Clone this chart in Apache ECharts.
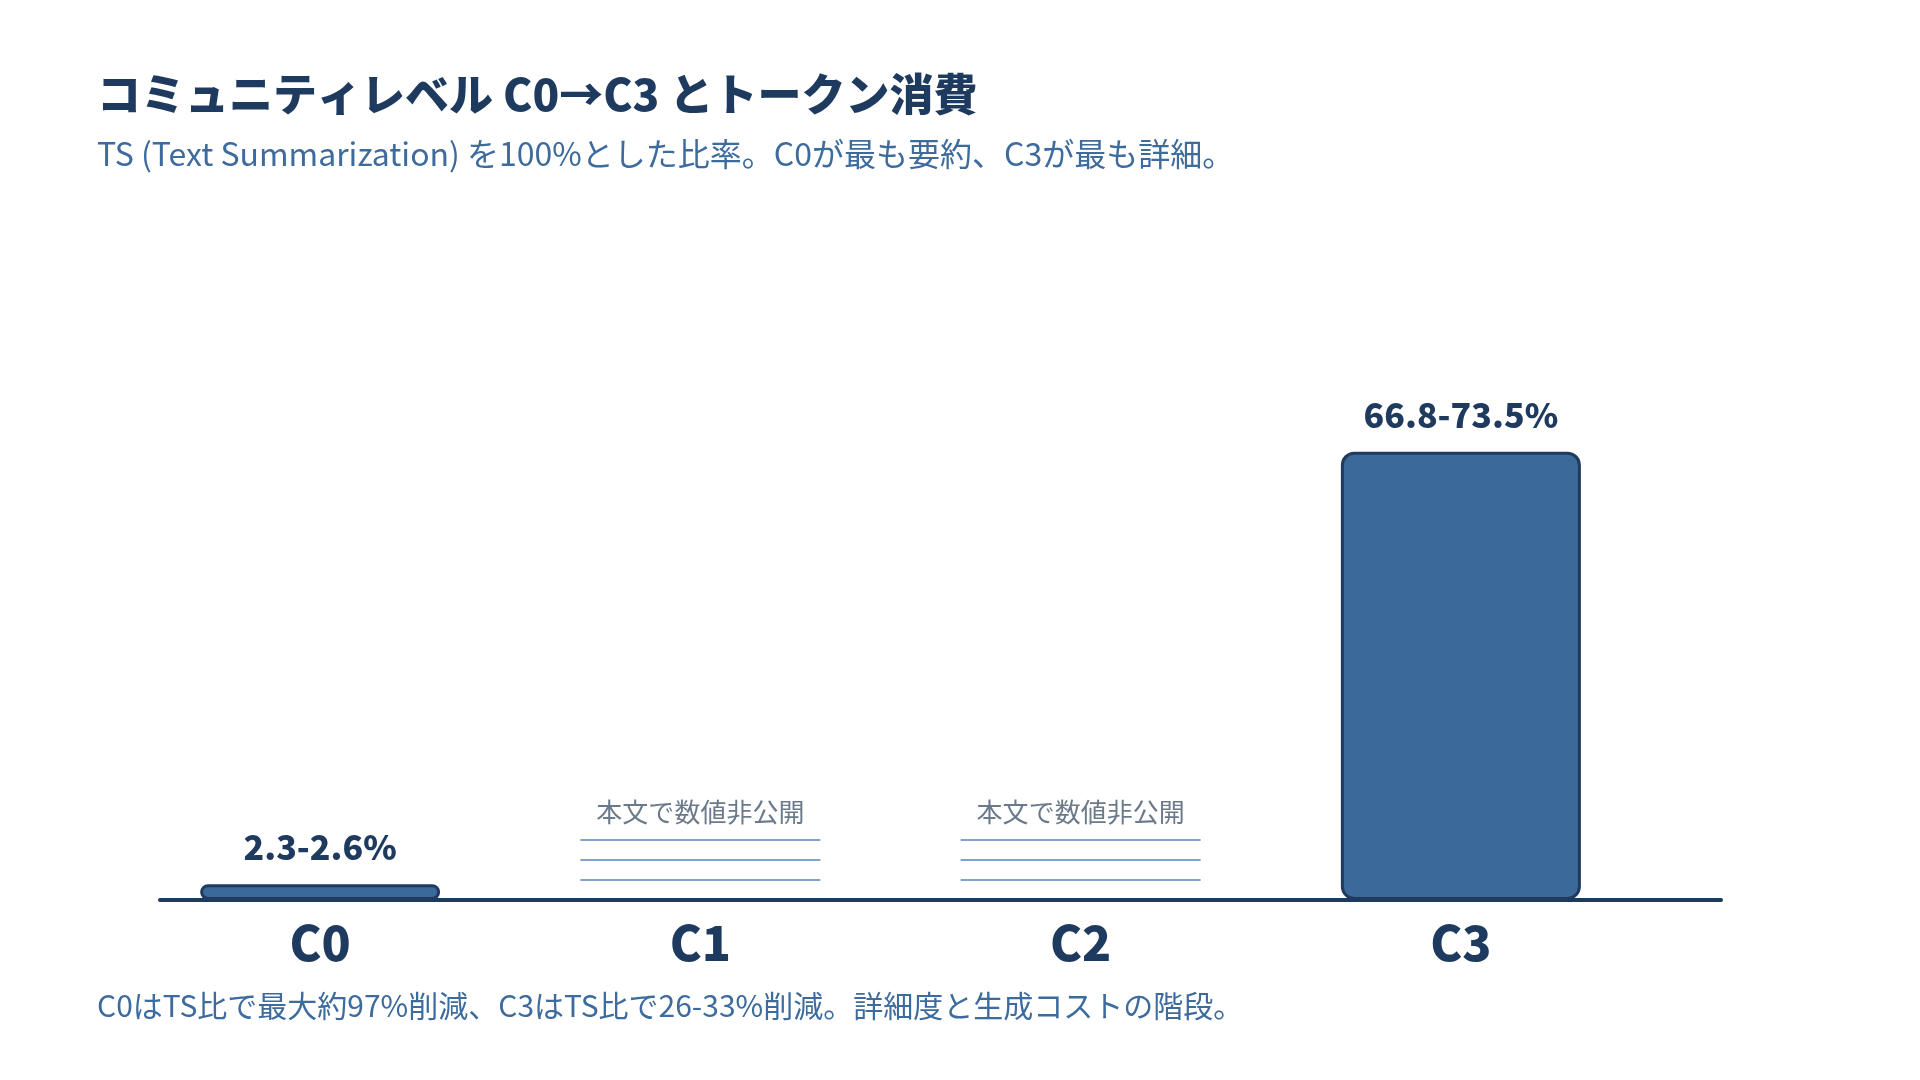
<!DOCTYPE html>
<html>
<head>
<meta charset="utf-8">
<script src="https://cdn.jsdelivr.net/npm/echarts@6/dist/echarts.min.js"></script>
<style>
html,body{margin:0;padding:0;background:#ffffff;}
#chart{width:1920px;height:1080px;}
</style>
</head>
<body>
<div id="chart"></div>
<script>
const titleText = 'コミュニティレベル C0→C3 とトークン消費';
const subtitleText = 'TS (Text Summarization) を100%とした比率。C0が最も要約、C3が最も詳細。';
const footerText = 'C0はTS比で最大約97%削減、C3はTS比で26-33%削減。詳細度と生成コストの階段。';
const categories = ['C0', 'C1', 'C2', 'C3'];
const lowValues = [2.3, null, null, 66.8];
const highValues = [2.6, null, null, 73.5];
const undisclosedNote = '本文で数値非公開';

const FONT = '"Noto Sans CJK JP", "Noto Sans", sans-serif';
const NAVY = '#1f3a5f';
const BAR = '#3c6a98';
const SUB = '#3d6b9e';

const undisclosedData = categories
  .map((c, i) => (highValues[i] == null ? [i] : null))
  .filter(d => d !== null);

const chart = echarts.init(document.getElementById('chart'));
chart.setOption({
  backgroundColor: '#ffffff',
  animation: false,
  title: [
    { text: titleText, left: 92, top: 67,
      textStyle: { fontFamily: FONT, fontSize: 44, fontWeight: 900, color: NAVY } },
    { text: subtitleText, left: 92, top: 133,
      textStyle: { fontFamily: FONT, fontSize: 32, fontWeight: 'normal', color: SUB } },
    { text: footerText, left: 92, top: 986,
      textStyle: { fontFamily: FONT, fontSize: 30, fontWeight: 'normal', color: SUB } }
  ],
  grid: [
    { left: 130, width: 1521, top: 290, bottom: 180 },
    { left: 160, right: 199, top: 290, bottom: 180 }
  ],
  xAxis: [
    { type: 'category', gridIndex: 0, data: categories,
      axisLine: { show: false }, axisTick: { show: false },
      axisLabel: { margin: 19, fontFamily: FONT, fontSize: 48, fontWeight: 900, color: NAVY } },
    { type: 'value', gridIndex: 1, min: 0, max: 1,
      axisLine: { show: true, lineStyle: { color: NAVY, width: 4 } },
      axisTick: { show: false }, axisLabel: { show: false }, splitLine: { show: false } }
  ],
  yAxis: [
    { type: 'value', gridIndex: 0, min: 0, max: 100, show: false },
    { type: 'value', gridIndex: 1, min: 0, max: 1, show: false }
  ],
  series: [
    {
      type: 'bar', xAxisIndex: 0, yAxisIndex: 0, z: 3,
      data: highValues,
      barWidth: 240,
      itemStyle: { color: BAR, borderColor: NAVY, borderWidth: 3, borderRadius: 12 },
      label: {
        show: true, position: 'top', distance: 20,
        fontFamily: FONT, fontSize: 34, fontWeight: 900, color: NAVY,
        formatter: p => lowValues[p.dataIndex] + '-' + highValues[p.dataIndex] + '%'
      }
    },
    {
      type: 'custom', xAxisIndex: 0, yAxisIndex: 0, z: 3,
      data: undisclosedData,
      renderItem: function (params, api) {
        const base = api.coord([api.value(0), 0]);
        const w = 240;
        const x0 = base[0] - w / 2, x1 = base[0] + w / 2;
        const lineStyle = { stroke: '#7ea3cc', lineWidth: 2 };
        const children = [20, 40, 60].map(off => ({
          type: 'line',
          shape: { x1: x0, y1: base[1] - off, x2: x1, y2: base[1] - off },
          style: lineStyle
        }));
        children.push({
          type: 'text',
          style: {
            text: undisclosedNote, x: base[0], y: base[1] - 88,
            textAlign: 'center', textVerticalAlign: 'middle',
            font: 'normal 26px ' + FONT, fill: '#6b7a8a'
          }
        });
        return { type: 'group', children: children };
      }
    }
  ]
});
</script>
</body>
</html>
